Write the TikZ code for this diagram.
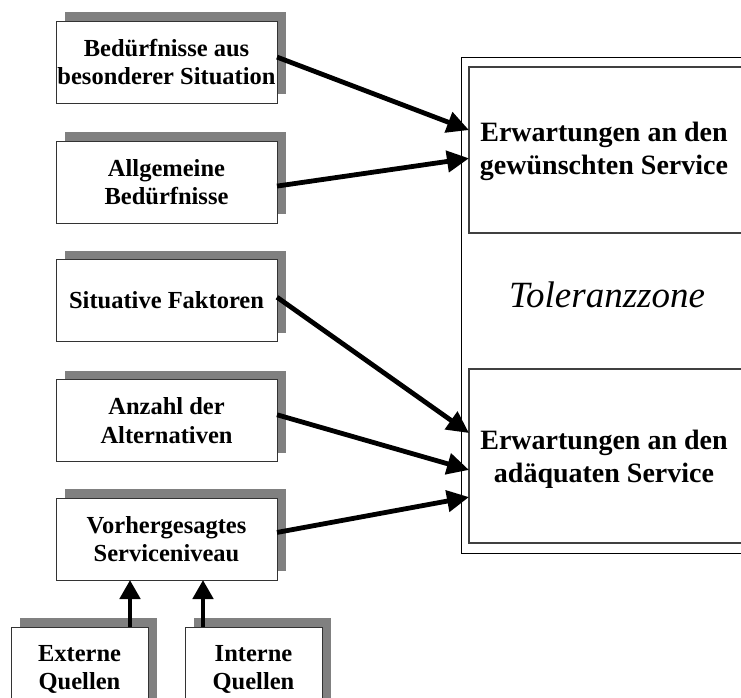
\documentclass[tikz,border=0pt]{standalone}
\usepackage{fontspec}
\setmainfont{Liberation Serif}
\usetikzlibrary{arrows.meta,calc,shadows}

\tikzset{
  factor/.style={
    draw=black!80, line width=1pt, fill=white,
    minimum width=221pt, minimum height=82pt,
    inner sep=0pt, outer sep=0pt, align=center,
    font=\bfseries\fontsize{24.5}{28.5}\selectfont,
    drop shadow={shadow xshift=9pt, shadow yshift=9pt, fill=black!50, opacity=1}
  },
  source/.style={factor, minimum width=137pt, minimum height=85pt},
  expect/.style={
    draw=black!75, line width=1.5pt, fill=white,
    inner sep=0pt, outer sep=0pt, align=center
  },
  expecttext/.style={font=\bfseries\fontsize{28}{33}\selectfont, align=center},
  flow/.style={line width=4.8pt, -{Triangle[length=22pt,width=21pt]}},
  feed/.style={line width=4.8pt, -{Triangle[length=19pt,width=20pt]}}
}

\begin{document}
\begin{tikzpicture}[x=1pt, y=-1pt]
  \useasboundingbox (0,0) rectangle (741,697);

  % tolerance zone frame and the two expectation levels
  \node[draw=black, line width=1pt, inner sep=0pt, outer sep=0pt,
        minimum width=320pt, minimum height=496pt] (zone) at (621,305) {};
  \node[expect, minimum width=300pt, minimum height=166pt] (want) at (619,150) {};
  \node[expect, minimum width=300pt, minimum height=174pt] (adeq) at (619,456) {};
  \node[expecttext] (wanttext) at (604,151) {Erwartungen an den\\gewünschten Service};
  \node[expecttext] (adeqtext) at (604,459) {Erwartungen an den\\adäquaten Service};
  \node[font=\itshape\fontsize{37}{40}\selectfont] (tol) at (607,295) {Toleranzzone};

  % influencing factors
  \node[factor] (b1) at (166.5,62)  {Bedürfnisse aus\\besonderer Situation};
  \node[factor] (b2) at (166.5,182) {Allgemeine\\Bedürfnisse};
  \node[factor] (b3) at (166.5,300.5) {Situative Faktoren};
  \node[factor] (b4) at (166.5,420.5) {Anzahl der\\Alternativen};
  \node[factor] (b5) at (166.5,539) {Vorhergesagtes\\Serviceniveau};

  % sources of the predicted service level
  \node[source, anchor=north west] (ext) at (11,627) {Externe\\Quellen};
  \node[source, anchor=north west] (int) at (185,627) {Interne\\Quellen};

  % arrows into the desired service level
  \draw[flow] ($(b1.north east)!0.44!(b1.south east)$) -- ($(want.north west)!0.38!(want.south west)$);
  \draw[flow] ($(b2.north east)!0.55!(b2.south east)$) -- ($(want.north west)!0.55!(want.south west)$);

  % arrows into the adequate service level
  \draw[flow] ($(b3.north east)!0.46!(b3.south east)$) -- ($(adeq.north west)!0.368!(adeq.south west)$);
  \draw[flow] ($(b4.north east)!0.43!(b4.south east)$) -- ($(adeq.north west)!0.58!(adeq.south west)$);
  \draw[flow] ($(b5.north east)!0.42!(b5.south east)$) -- ($(adeq.north west)!0.736!(adeq.south west)$);

  % sources feeding the predicted level
  \coordinate (extup) at ($(ext.north west)+(119,0)$);
  \coordinate (intup) at ($(int.north west)+(18,0)$);
  \draw[feed] (extup) -- (extup |- b5.south);
  \draw[feed] (intup) -- (intup |- b5.south);
\end{tikzpicture}
\end{document}
